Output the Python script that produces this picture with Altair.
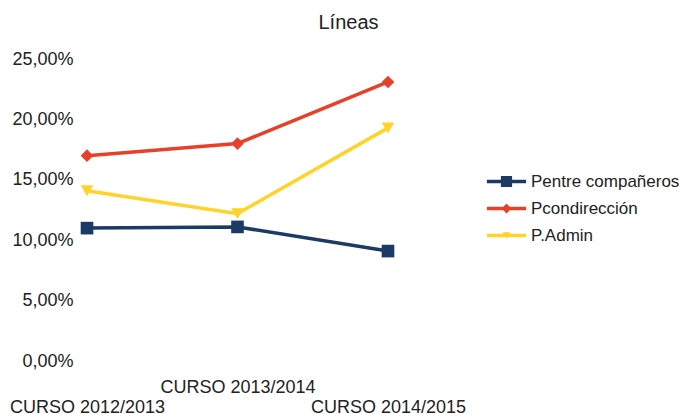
import altair as alt
import pandas as pd

cursos = ["CURSO 2012/2013", "CURSO 2013/2014", "CURSO 2014/2015"]
series = ["Pentre compañeros", "Pcondirección", "P.Admin"]
pentre = [0.110, 0.111, 0.091]
pcond = [0.170, 0.180, 0.231]
padmin = [0.141, 0.122, 0.193]
y_ticks = [0.0, 0.05, 0.10, 0.15, 0.20, 0.25]

colors = ["#1b3a66", "#e8412a", "#ffd32a"]
marker_shapes = ["square", "diamond", "triangle-down"]
legend_shapes = [
    "M-2.8,-0.25H2.8V0.25H-2.8Z M-0.8,-0.8H0.8V0.8H-0.8Z",
    "M-2.8,-0.25H2.8V0.25H-2.8Z M0,-0.7L0.7,0L0,0.7L-0.7,0Z",
    "M-2.8,-0.25H2.8V0.25H-2.8Z M-0.55,-0.45H0.55L0,0.45Z",
]

rows = []
for s, vals in zip(series, [pentre, pcond, padmin]):
    for c, v in zip(cursos, vals):
        rows.append({"curso": c, "serie": s, "valor": v})
df = pd.DataFrame(rows)

FONT = "Liberation Sans"
TXT = "#222222"
FS = 18

x = alt.X(
    "curso:N",
    sort=cursos,
    scale=alt.Scale(type="point", domain=cursos, padding=0.0665),
    axis=alt.Axis(
        title=None, domain=False, ticks=False, grid=False,
        labelAngle=0, labelOverlap=False, labelBound=False, labelFlush=False,
        labelFont=FONT, labelFontSize=FS, labelColor=TXT,
        labelBaseline="top", labelPadding=17, labelLineHeight=20,
        labelExpr="datum.value == 'CURSO 2013/2014' ? datum.value : ['', datum.value]",
        labelLimit=300,
    ),
)
y = alt.Y(
    "valor:Q",
    scale=alt.Scale(domain=[0, 0.25], nice=False),
    axis=alt.Axis(
        title=None, domain=False, ticks=False, grid=False, values=y_ticks,
        labelFont=FONT, labelFontSize=FS, labelColor=TXT, labelPadding=4,
        labelExpr="replace(format(datum.value, '.2%'), '.', ',')",
    ),
)

base = alt.Chart(df).encode(x=x, y=y)

color_nl = alt.Color("serie:N", scale=alt.Scale(domain=series, range=colors), legend=None)

lines = base.mark_line(strokeWidth=3.5).encode(color=color_nl, detail="serie:N")
points = base.mark_point(filled=True, size=160, opacity=1).encode(
    color=color_nl,
    shape=alt.Shape("serie:N", scale=alt.Scale(domain=series, range=marker_shapes), legend=None),
)

leg = alt.Legend(
    title=None, orient="none", legendX=421, legendY=114, padding=0,
    symbolSize=196, symbolStrokeWidth=0, symbolOpacity=1,
    labelFont=FONT, labelFontSize=17, labelColor=TXT, labelOffset=16,
    rowPadding=9, labelLimit=300,
)
legend_layer = base.mark_point(filled=True, opacity=0).encode(
    color=alt.Color("serie:N", scale=alt.Scale(domain=series, range=colors), legend=leg),
    shape=alt.Shape("serie:N", scale=alt.Scale(domain=series, range=legend_shapes), legend=leg),
)

chart = (
    alt.layer(lines, points, legend_layer)
    .resolve_scale(color="independent", shape="independent")
    .properties(
        width=321,
        height=302,
        background="white",
        autosize=alt.AutoSizeParams(type="none"),
        padding={"left": 69, "top": 51, "right": 285, "bottom": 52},
        title=alt.TitleParams(
            text="Líneas", font=FONT, fontSize=20, fontWeight="normal", color=TXT,
            anchor="middle", dx=111, offset=17,
        ),
    )
    .configure_view(strokeWidth=0, stroke="transparent")
)

chart.save("out.html", embed_options={"renderer": "svg", "actions": False})
